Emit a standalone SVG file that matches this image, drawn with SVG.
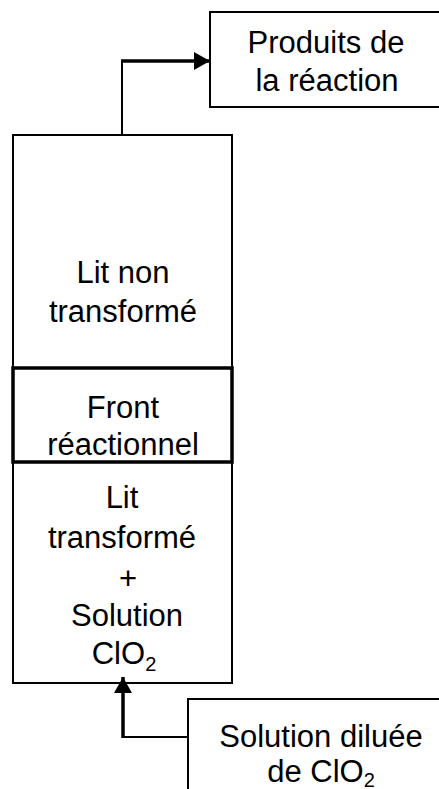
<svg xmlns="http://www.w3.org/2000/svg" width="439" height="789" viewBox="0 0 439 789">
<style>
.box{fill:#fff;stroke:#000;stroke-width:2}
.thick{fill:none;stroke:#000;stroke-width:3.5}
text{font-family:"Liberation Sans",Arial,sans-serif;font-size:31px;fill:#000;text-anchor:middle}
.sub{font-size:20px}
.ln{fill:none;stroke:#000;stroke-width:2}
.lnb{fill:none;stroke:#000;stroke-width:3.5}
</style>
<defs>
<marker id="ah" markerUnits="userSpaceOnUse" markerWidth="18" markerHeight="18" refX="16" refY="9" orient="auto">
<path d="M0,0 L16,9 L0,18 Z" fill="#000"/>
</marker>
</defs>
<rect width="439" height="789" fill="#fff"/>
<g id="column">
<rect class="box" x="13" y="135" width="219" height="548"/>
</g>
<g id="lit-non-transforme">
<text x="123" y="283">Lit non</text>
<text x="123" y="322">transformé</text>
</g>
<g id="front">
<rect class="thick" x="13" y="368" width="219" height="94"/>
<text x="123" y="418">Front</text>
<text x="123" y="455">réactionnel</text>
</g>
<g id="lit-transforme">
<text x="122" y="508">Lit</text>
<text x="122" y="548">transformé</text>
<text x="128" y="589">+</text>
<text x="127" y="626">Solution</text>
<text x="124" y="664">ClO<tspan class="sub" dy="7">2</tspan></text>
</g>
<g id="produits">
<rect class="box" x="210" y="12" width="240" height="95"/>
<text x="326" y="53">Produits de</text>
<text x="327" y="91">la réaction</text>
</g>
<g id="solution-diluee">
<rect class="box" x="188" y="699" width="270" height="120"/>
<text x="321" y="747">Solution diluée</text>
<text x="321" y="782">de ClO<tspan class="sub" dy="5">2</tspan></text>
</g>
<g id="connectors">
<path class="ln" d="M122,135 V61"/>
<path class="lnb" d="M121,61 H210" marker-end="url(#ah)"/>
<path class="ln" d="M188,737 H123"/>
<path class="lnb" d="M123,738 V677" marker-end="url(#ah)"/>
</g>
</svg>
